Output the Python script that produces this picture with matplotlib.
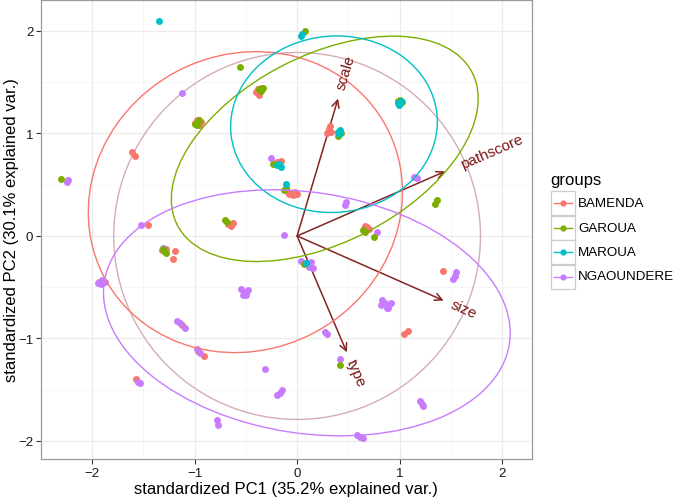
import numpy as np
import matplotlib.pyplot as plt
from matplotlib.patches import Ellipse, Circle, Rectangle
from matplotlib.lines import Line2D

plt.rcParams['font.family'] = ['Liberation Sans', 'DejaVu Sans']

groups = ['BAMENDA', 'GAROUA', 'MAROUA', 'NGAOUNDERE']
group_colors = ['#F8766D', '#7CAE00', '#00BFC4', '#C77CFF']

# scores (PC1, PC2)
bamenda_x = [-0.38, -0.36, -0.40, -0.35, -0.37, -0.98, -1.00, -0.96, -0.94, -1.61, -1.58,
             0.31, 0.33, 0.29, 0.32, -0.20, -0.16, -0.10, -0.06, -0.02, 0.00, -0.04, -0.08,
             -1.46, -1.28, -1.19, -1.21, -1.32, -0.63, -0.65, -0.67, 0.68, 0.70, 0.66,
             1.42, -1.93, -1.12, -0.97, -0.91, -1.57, 1.04, 1.08]
bamenda_y = [1.43, 1.41, 1.40, 1.44, 1.38, 1.13, 1.10, 1.08, 1.11, 0.82, 0.78,
             1.04, 1.01, 1.00, 1.07, 0.72, 0.73, 0.44, 0.42, 0.43, 0.41, 0.40, 0.41,
             0.11, -0.13, -0.15, -0.22, -0.14, 0.13, 0.10, 0.12, 0.09, 0.07, 0.10,
             -0.34, -0.45, -0.87, -1.12, -1.17, -1.40, -0.96, -0.93]

garoua_x = [-0.56, -0.37, -0.33, -0.35, -0.98, -0.96, -1.00, 0.08, 1.00, 1.02, 0.98,
            0.40, 0.43, -2.30, -1.30, -1.28, -1.31, -0.70, -0.68, -0.11, -0.13, -0.24,
            1.37, 1.35, 0.66, 0.75, 0.64, 0.42, 0.07]
garoua_y = [1.65, 1.43, 1.44, 1.41, 1.08, 1.13, 1.09, 2.00, 1.33, 1.31, 1.32,
            0.98, 1.00, 0.556, -0.15, -0.17, -0.13, 0.16, 0.14, 0.47, 0.45, 0.70,
            0.35, 0.31, 0.04, -0.01, 0.06, -1.26, -0.27]

maroua_x = [-1.35, 0.05, 0.04, 1.00, 0.99, 1.01, 0.98, 0.40, 0.42, 0.41,
            -0.20, -0.18, -0.16, -0.11, 0.09]
maroua_y = [2.10, 1.97, 1.95, 1.30, 1.28, 1.32, 1.30, 1.01, 1.03, 0.99,
            0.69, 0.70, 0.67, 0.51, -0.26]

ngaoundere_x = [-1.12, -0.25, -2.24, -2.25, -1.52, -1.31, -0.52, -0.55, -0.48, -0.53, -0.50,
                -0.13, -1.91, -1.94, -1.88, -1.90, 1.17, 1.14, 0.48, 0.47, 0.78,
                0.08, 0.04, 0.16, 0.14, 0.12, 1.54, 1.55, 1.52, 0.86, 0.83, 0.92, 0.88, 0.82,
                -1.14, -1.17, -1.09, -0.98, -0.95, -0.31, -0.17, -0.15, -0.20, -1.53, -1.55,
                -0.77, -0.78, 0.29, 0.27, 0.42, 1.22, 1.20, 1.23, 0.61, 0.58, 0.64, 0.89]
ngaoundere_y = [1.39, 0.76, 0.55, 0.53, 0.107, -0.12, -0.55, -0.52, -0.53, -0.58, -0.58,
                0.01, -0.47, -0.46, -0.45, -0.43, 0.57, 0.58, 0.33, 0.30, 0.04,
                -0.26, -0.24, -0.31, -0.25, -0.30, -0.39, -0.35, -0.42, -0.65, -0.62, -0.65, -0.70, -0.67,
                -0.85, -0.83, -0.90, -1.10, -1.14, -1.30, -1.53, -1.50, -1.55, -1.43, -1.42,
                -1.84, -1.80, -0.96, -0.94, -1.20, -1.64, -1.61, -1.66, -1.96, -1.94, -1.97, -0.70]

# 68% ellipses per group: centre, semi-axes, angle (deg)
ell_cx = [-0.505, 0.27, 0.36, 0.095]
ell_cy = [0.33, 0.85, 1.09, -0.75]
ell_a = [1.56, 1.62, 1.01, 2.00]
ell_b = [1.44, 0.91, 0.86, 1.175]
ell_angle = [28.5, 27.4, 5.0, -8.7]

circle_r = 1.79

var_names = ['scale', 'pathscore', 'size', 'type']
var_x = [0.40, 1.445, 1.43, 0.485]
var_y = [1.34, 0.63, -0.63, -1.135]

W, H = 675, 502
fig = plt.figure(figsize=(W / 100, H / 100), dpi=100)
px_l, px_r, px_t, px_b = 41, 531.7, 1, 460
ax = fig.add_axes([px_l / W, 1 - px_b / H, (px_r - px_l) / W, (px_b - px_t) / H])
ax.set_xlim(-2.498, 2.29)
ax.set_ylim(-2.176, 2.302)

ax.set_xticks([-2, -1, 0, 1, 2])
ax.set_yticks([-2, -1, 0, 1, 2])
ax.set_xticks(np.arange(-2.5, 2.5, 1.0), minor=True)
ax.set_yticks(np.arange(-1.5, 2.5, 1.0), minor=True)
ax.grid(which='major', color='#EBEBEB', lw=0.9, zorder=0)
ax.grid(which='minor', color='#F3F3F3', lw=0.5, zorder=0)
ax.set_axisbelow(True)
ax.tick_params(which='minor', length=0)
ax.tick_params(which='major', length=3.5, width=0.8, color='#333333',
               labelsize=9.6, labelcolor='#1a1a1a', pad=2)
for s in ax.spines.values():
    s.set_color('#9a9a9a')
    s.set_linewidth(0.9)

ax.add_patch(Circle((0, 0), circle_r, fill=False, ec='#D3AEB3', lw=1.0, zorder=1))

arrow_col = '#832424'
for i in range(len(var_names)):
    ax.annotate('', xy=(var_x[i], var_y[i]), xytext=(0, 0),
                arrowprops=dict(arrowstyle='->', color=arrow_col, lw=1.1,
                                mutation_scale=13, shrinkA=0, shrinkB=0),
                zorder=2)

all_x = [bamenda_x, garoua_x, maroua_x, ngaoundere_x]
all_y = [bamenda_y, garoua_y, maroua_y, ngaoundere_y]
for gi in [0, 3, 1, 2]:
    ax.scatter(all_x[gi], all_y[gi], s=25, color=group_colors[gi], lw=0, zorder=3)

for gi in range(4):
    ax.add_patch(Ellipse((ell_cx[gi], ell_cy[gi]), 2 * ell_a[gi], 2 * ell_b[gi],
                         angle=ell_angle[gi], fill=False, ec=group_colors[gi],
                         lw=1.0, zorder=4))

for i, name in enumerate(var_names):
    ang = np.degrees(np.arctan(var_y[i] / var_x[i]))
    off = 0.25 * len(name) * 5.6
    dx = off * np.cos(np.radians(ang))
    dy = off * np.sin(np.radians(ang))
    ax.annotate(name, xy=(var_x[i], var_y[i]), xytext=(dx, dy), textcoords='offset points',
                rotation=ang, rotation_mode='anchor', ha='left', va='center',
                fontsize=11, color='#7A1515', zorder=5)

fig.text((px_l + px_r) / 2 / W, 1 - 490 / H, 'standardized PC1 (35.2% explained var.)',
         ha='center', va='center', fontsize=12)
fig.text(12 / W, 1 - 230 / H, 'standardized PC2 (30.1% explained var.)',
         ha='center', va='center', rotation=90, fontsize=12)

# legend
fig.text(550 / W, 1 - 180 / H, 'groups', ha='left', va='center', fontsize=12)
for gi, g in enumerate(groups):
    top = 192 + gi * 24.5
    fig.add_artist(Rectangle((551 / W, 1 - (top + 24) / H), 24 / W, 24 / H,
                             transform=fig.transFigure, fc='white', ec='#CCCCCC', lw=0.9))
    yc = 1 - (top + 12) / H
    fig.add_artist(Line2D([554 / W, 572 / W], [yc, yc], transform=fig.transFigure,
                          color=group_colors[gi], lw=1.0))
    fig.add_artist(Line2D([563 / W], [yc], transform=fig.transFigure, marker='o',
                          ms=4.5, mew=0, color=group_colors[gi]))
    fig.text(578 / W, yc, g, ha='left', va='center', fontsize=9.6)

fig.savefig('out.png', dpi=100)
